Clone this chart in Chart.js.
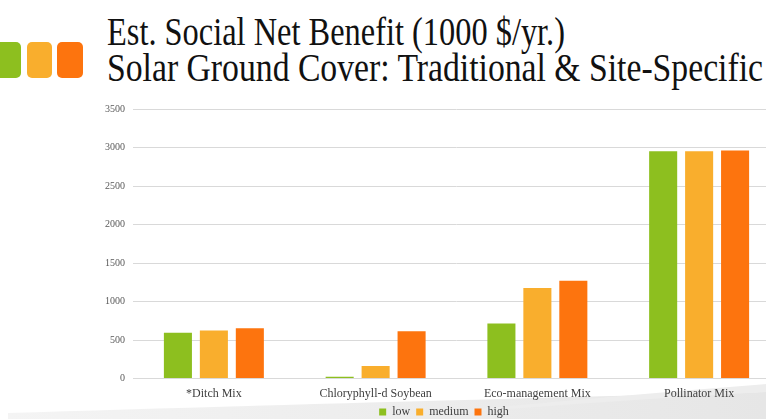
<!DOCTYPE html>
<html>
<head>
<meta charset="utf-8">
<script src="https://cdn.jsdelivr.net/npm/chart.js@4.4.0/dist/chart.umd.min.js"></script>
<style>
  html, body { margin: 0; padding: 0; width: 766px; height: 419px; overflow: hidden; background: #fff; }
  #swoosh { position: absolute; left: 0; top: 0; }
  .chip { position: absolute; top: 42px; height: 36px; border-radius: 5px; }
  .title { position: absolute; left: 107px; font-family: "Liberation Serif", serif; font-size: 40px;
           color: #111; white-space: nowrap; transform-origin: 0 0; line-height: 1; }
  #wrap { position: absolute; left: 80px; top: 95px; width: 720px; height: 333px; }
</style>
</head>
<body>
<svg id="swoosh" width="766" height="419">
  <defs>
    <linearGradient id="g" x1="0" y1="0" x2="1" y2="0">
      <stop offset="0" stop-color="#f4f4f4"/>
      <stop offset="1" stop-color="#e6e6e6"/>
    </linearGradient>
  </defs>
  <path d="M8 419 L8 413 Q300 404 766 392 L766 419 Z" fill="url(#g)"/>
  <path d="M380 419 Q560 400 766 384 L766 392 Q560 404 380 419 Z" fill="#ededed"/>
</svg>
<div class="chip" style="left:0px;width:21px;background:#8dbf1f;border-radius:0 5px 5px 0"></div>
<div class="chip" style="left:27px;width:25px;background:#f9ae2d"></div>
<div class="chip" style="left:57px;width:26px;background:#fd740e"></div>
<div class="title" id="t1" style="top:12px">Est. Social Net Benefit (1000 $/yr.)</div>
<div class="title" id="t2" style="top:48px">Solar Ground Cover: Traditional &amp; Site-Specific</div>
<div id="wrap"><canvas id="chart"></canvas></div>
<script>
// Datos
const categories = ['*Ditch Mix', 'Chloryphyll-d Soybean', 'Eco-management Mix', 'Pollinator Mix'];
const lowValues = [595, 25, 715, 2950];
const mediumValues = [625, 165, 1175, 2950];
const highValues = [655, 615, 1270, 2960];
const yTicks = [0, 500, 1000, 1500, 2000, 2500, 3000, 3500];

// Ajustar el ancho del título
function fitTitle(id, width){
    const el = document.getElementById(id);
    const w = el.getBoundingClientRect().width;
    el.style.transform = 'scaleX(' + (width / w) + ')';
}
fitTitle('t1', 458);
fitTitle('t2', 656);

// Mover la leyenda un poco a la derecha
const legendShift = {
    id: 'legendShift',
    afterLayout: function(chart){
        if (chart.legend) { chart.legend.left += 14; chart.legend.right += 14; }
    }
};

const ctx = document.getElementById('chart').getContext('2d');

new Chart(ctx, {
    type: 'bar',
    data: {
        labels: categories,
        datasets: [
            { label: 'low', data: lowValues, backgroundColor: '#8dbf1f' },
            { label: 'medium', data: mediumValues, backgroundColor: '#f9ae2d' },
            { label: 'high', data: highValues, backgroundColor: '#fd740e' }
        ]
    },
    options: {
        responsive: true,
        maintainAspectRatio: false,
        animation: false,
        categoryPercentage: 0.667,
        barPercentage: 0.78,
        layout: { padding: { top: 10, right: 20, bottom: 0, left: 0 } },
        scales: {
            x: {
                afterFit: function(axis){ axis.height += 5; },
                grid: { display: false },
                border: { color: '#d9d9d9' },
                ticks: { color: '#404040', font: { family: 'Liberation Serif', size: 12 }, padding: 0 }
            },
            y: {
                min: 0,
                max: 3500,
                afterBuildTicks: function(axis){ axis.ticks = yTicks.map(v => ({ value: v })); },
                afterFit: function(axis){ axis.width = 53; },
                grid: { color: '#d9d9d9', drawTicks: false },
                border: { display: false },
                ticks: {
                    color: '#595959', font: { family: 'Liberation Serif', size: 10 }, padding: 8,
                    callback: function(value){ return String(value); }
                }
            }
        },
        plugins: {
            legend: {
                position: 'bottom',
                labels: {
                    boxWidth: 7, boxHeight: 7, padding: 0,
                    color: '#404040',
                    font: { family: 'Liberation Serif', size: 12 },
                    generateLabels: function(chart){
                        const items = Chart.defaults.plugins.legend.labels.generateLabels(chart);
                        items.forEach((it, i) => { if (i < items.length - 1) it.text = it.text + '  '; });
                        return items;
                    }
                }
            },
            tooltip: { enabled: false }
        }
    },
    plugins: [legendShift]
});
</script>
</body>
</html>
